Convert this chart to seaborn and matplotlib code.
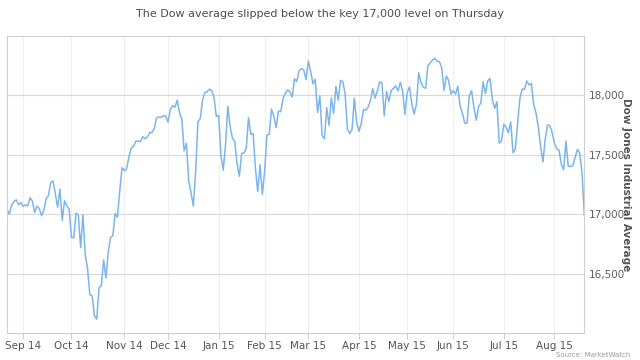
import matplotlib
matplotlib.use("Agg")
import matplotlib.pyplot as plt
import matplotlib.ticker as mticker
import numpy as np
import pandas as pd
import seaborn as sns

# NYSE closed days inside the window
HOLIDAYS = ["2014-09-01", "2014-11-27", "2014-12-25", "2015-01-01", "2015-01-19",
            "2015-02-16", "2015-04-03", "2015-05-25", "2015-07-03"]

# daily closes, Aug 21 2014 -> Aug 20 2015
closes_aug14 = [17039, 17001, 17076, 17106, 17122, 17079, 17098]
closes_sep14 = [17067, 17079, 17069, 17138, 17111, 17014, 17068, 17049, 16988, 17031,
                17131, 17157, 17266, 17280, 17173, 17056, 17211, 16946, 17113, 17071, 17043]
closes_oct14 = [16805, 16801, 17009, 16992, 16719, 16995, 16659, 16544, 16321, 16315,
                16142, 16117, 16380, 16400, 16615, 16462, 16677, 16805, 16818, 17006,
                16975, 17196, 17391]
closes_nov14 = [17366, 17384, 17484, 17554, 17573, 17614, 17615, 17612, 17652, 17635,
                17648, 17688, 17686, 17719, 17810, 17818, 17815, 17828, 17828]
closes_dec14 = [17776, 17880, 17913, 17901, 17959, 17853, 17801, 17533, 17597, 17280,
                17180, 17068, 17356, 17778, 17804, 17959, 18024, 18030, 18053, 18038,
                17983, 17823]
closes_jan15 = [17833, 17501, 17371, 17585, 17908, 17737, 17640, 17613, 17427, 17320,
                17511, 17515, 17554, 17813, 17672, 17678, 17387, 17191, 17416, 17165]
closes_feb15 = [17361, 17666, 17673, 17885, 17825, 17729, 17868, 17863, 17973, 18019,
                18047, 18029, 17986, 18140, 18117, 18209, 18225, 18215, 18133]
closes_mar15 = [18289, 18204, 18097, 18136, 17857, 17996, 17662, 17635, 17896, 17749,
                17977, 17849, 18076, 17959, 18127, 18116, 18011, 17718, 17678, 17713,
                17977, 17776]
closes_apr15 = [17698, 17763, 17881, 17875, 17902, 17958, 18057, 17977, 18036, 18113,
                18106, 17827, 18034, 17949, 18038, 18059, 18080, 18038, 18110, 18036, 17841]
closes_may15 = [18025, 18071, 17928, 17842, 17925, 18191, 18105, 18069, 18060, 18253,
                18273, 18299, 18313, 18286, 18285, 18232, 18041, 18163, 18127, 18011]
closes_jun15 = [18041, 18011, 18077, 17906, 17849, 17767, 17765, 18001, 18039, 17899,
                17791, 17905, 17935, 18115, 18016, 18120, 18144, 17966, 17891, 17947,
                17597, 17620]
closes_jul15 = [17758, 17731, 17684, 17777, 17516, 17548, 17761, 17978, 18054, 18051,
                18121, 18087, 18101, 17920, 17852, 17732, 17569, 17441, 17631, 17751,
                17746, 17690]
closes_aug15 = [17598, 17551, 17541, 17420, 17373, 17615, 17403, 17402, 17409, 17477,
                17546, 17512, 17349, 16991]

closes = (closes_aug14 + closes_sep14 + closes_oct14 + closes_nov14 + closes_dec14
          + closes_jan15 + closes_feb15 + closes_mar15 + closes_apr15 + closes_may15
          + closes_jun15 + closes_jul15 + closes_aug15)

y_ticks = [16500, 17000, 17500, 18000]

dates = pd.bdate_range("2014-08-21", "2015-08-20", freq="C", holidays=HOLIDAYS)
df = pd.DataFrame({"date": dates, "close": closes})
df["pos"] = np.arange(len(df))  # ordinal axis: one slot per trading day

# first trading day of every month (skip the partial August at the start)
month_first = df.groupby(df["date"].dt.to_period("M"))["pos"].min().iloc[1:]
tick_labels = [df["date"].iloc[p].strftime("%b %y") for p in month_first]

sns.set_theme(style="white")
plt.rcParams["font.family"] = ["DejaVu Sans"]

fig = plt.figure(figsize=(6.4, 3.6), dpi=100)
ax = fig.add_axes([0.011, 0.075, 0.902, 0.825])

sns.lineplot(data=df, x="pos", y="close", ax=ax, color="#7cb5ec", linewidth=1.1)

ax.set_xlim(0, len(df) - 1)
ax.set_ylim(16000, 18500)

ax.set_xticks(month_first.values)
ax.set_xticklabels(tick_labels)
ax.set_yticks(y_ticks)
ax.yaxis.set_major_formatter(mticker.FuncFormatter(lambda v, _: f"{v:,.0f}"))
ax.yaxis.tick_right()

ax.grid(axis="y", color="#d8d8d8", linewidth=0.8)
ax.grid(axis="x", color="#f0f0f0", linewidth=0.8)
ax.set_axisbelow(True)

ax.tick_params(axis="x", length=4, width=0.7, color="#c0d0e0", labelsize=7.5,
               labelcolor="#555555", pad=2, bottom=True)
ax.tick_params(axis="y", length=0, labelsize=7.5, labelcolor="#606060", pad=3)

for side in ["top", "left", "right"]:
    ax.spines[side].set_color("#d0d0d0")
    ax.spines[side].set_linewidth(0.8)
ax.spines["bottom"].set_color("#c0d0e0")
ax.spines["bottom"].set_linewidth(0.8)

ax.set_xlabel("")
ax.set_ylabel("")

fig.text(0.5, 0.96, "The Dow average slipped below the key 17,000 level on Thursday",
         ha="center", va="center", fontsize=8, color="#4d4d4d")
fig.text(0.978, 0.486, "Dow Jones Industrial Average", rotation=270, ha="center",
         va="center", fontsize=7.5, fontweight="bold", color="#555555")
fig.text(0.985, 0.015, "Source: MarketWatch", ha="right", va="center",
         fontsize=5, color="#999999")

fig.savefig("out.png", dpi=100)
